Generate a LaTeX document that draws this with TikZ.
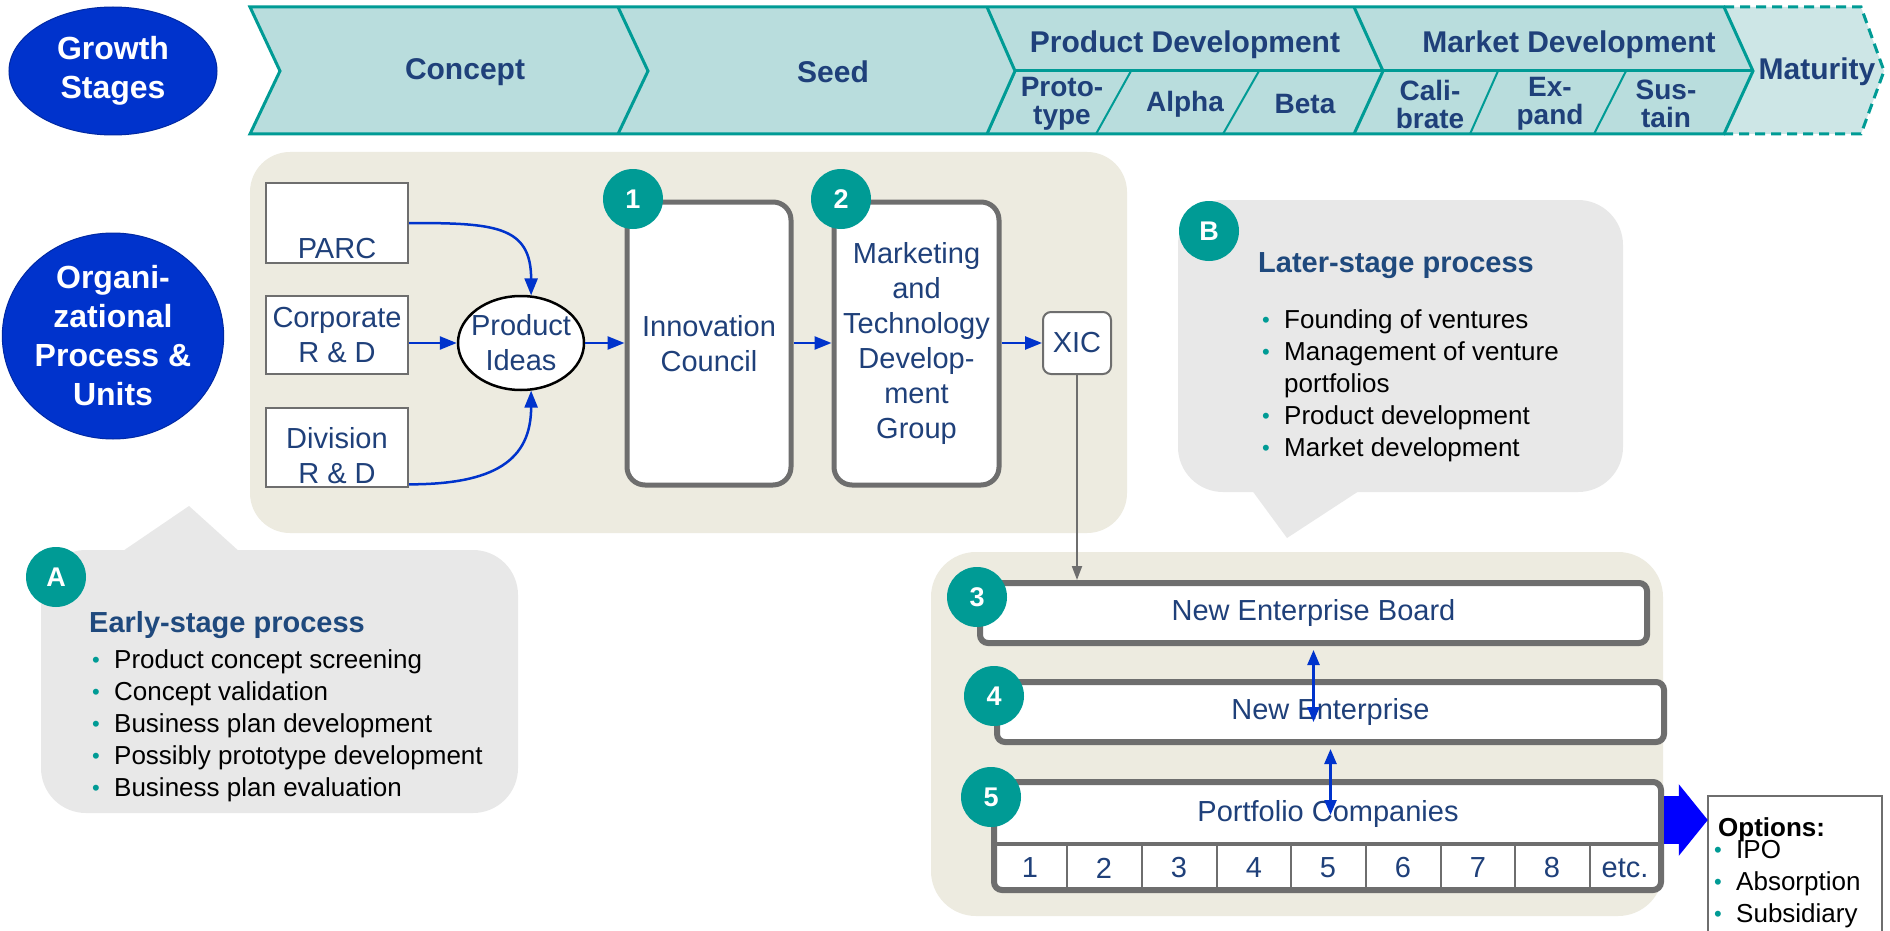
\documentclass[tikz,border=0pt]{standalone}
\usepackage{fontspec}
\setmainfont{Liberation Sans}
\usetikzlibrary{arrows.meta,shapes.geometric,calc}
\definecolor{dblue}{RGB}{31,64,122}
\definecolor{hblue}{RGB}{31,73,125}
\definecolor{teal1}{RGB}{0,155,149}
\definecolor{bannerfill}{RGB}{185,221,221}
\definecolor{matfill}{RGB}{205,230,230}
\definecolor{beige}{RGB}{237,235,224}
\definecolor{callgray}{RGB}{232,232,232}
\definecolor{boxgray}{RGB}{110,110,110}
\definecolor{ovalblue}{RGB}{0,51,204}
\definecolor{arrblue}{RGB}{0,51,204}
\definecolor{bigblue}{RGB}{0,0,255}
\newcommand{\bul}{\makebox[22pt][l]{\color{teal1}\fontsize{22}{22}\selectfont\raisebox{1pt}{•}}}
\begin{document}
\begin{tikzpicture}[x=1pt,y=-1pt,
  bannertxt/.style={text=dblue,font=\bfseries\fontsize{30}{30}\selectfont,align=center,inner sep=0pt},
  subtxt/.style={text=dblue,font=\bfseries\fontsize{28}{28}\selectfont,align=center,inner sep=0pt},
  bluebig/.style={ellipse,fill=ovalblue,draw=ovalblue!80!black,line width=1pt,text=white,font=\bfseries\fontsize{32}{39}\selectfont,align=center,inner sep=0pt},
  boxtxt/.style={text=dblue,font=\fontsize{29}{35}\selectfont,align=center},
  srcbox/.style={draw=boxgray,line width=2pt,fill=white,minimum width=142pt,inner sep=0pt},
  bigbox/.style={draw=boxgray,line width=5pt,fill=white,rounded corners=18pt,text=dblue,font=\fontsize{29}{35}\selectfont,align=center,inner sep=0pt},
  barbox/.style={draw=boxgray,line width=6pt,fill=white,rounded corners=8pt,minimum width=667pt,text=dblue,font=\fontsize{29}{35}\selectfont,inner sep=0pt},
  badge/.style={circle,fill=teal1,minimum size=60pt,inner sep=0pt,text=white,font=\bfseries\fontsize{27}{27}\selectfont},
  conn/.style={arrblue,line width=2.5pt,-{Triangle[length=17pt,width=13pt]}},
  dconn/.style={arrblue,line width=2.5pt,{Triangle[length=15pt,width=12pt]}-{Triangle[length=15pt,width=12pt]}},
  head/.style={text=hblue,font=\bfseries\fontsize{29}{29}\selectfont,inner sep=0pt,anchor=base west},
  item/.style={text=black,font=\fontsize{26}{32}\selectfont,inner sep=0pt,anchor=base west},
  numtxt/.style={text=dblue,font=\fontsize{29}{29}\selectfont,inner sep=0pt}
]
\useasboundingbox (0,0) rectangle (1890,931);
\fill[white] (0,0) rectangle (1890,931);

% ---------- panels and callouts ----------
\fill[beige,rounded corners=40pt] (250,152) rectangle (1127,533);
\fill[beige,rounded corners=45pt] (931,552) rectangle (1663,916);
\fill[callgray,rounded corners=45pt] (41,550) rectangle (518,813);
\fill[callgray] (120,553) -- (189,506) -- (241,553) -- cycle;
\fill[callgray,rounded corners=45pt] (1178,200) rectangle (1623,492);
\fill[callgray] (1251,489) -- (1287,538) -- (1362,489) -- cycle;

% ---------- growth stage banner ----------
\fill[matfill] (1724,7) -- (1861,7) -- (1884,71) -- (1861,134) -- (1724,134) -- (1753,71) -- cycle;
\draw[teal1,line width=3pt,dash pattern=on 10pt off 6pt] (1724,7) -- (1861,7) -- (1884,71) -- (1861,134) -- (1724,134);
\filldraw[fill=bannerfill,draw=teal1,line width=3pt,line join=miter]
  (250,7) -- (1724,7) -- (1753,71) -- (1724,134) -- (250,134) -- (280,71) -- cycle;
\draw[teal1,line width=3pt] (618,7) -- (648,71) -- (618,134);
\draw[teal1,line width=3pt] (987,7) -- (1015,71) -- (987,134);
\draw[teal1,line width=3pt] (1354,7) -- (1383,71) -- (1354,134);
\draw[teal1,line width=3pt] (1015,71) -- (1753,71);
\draw[teal1,line width=2pt] (1131,71) -- (1096,134);
\draw[teal1,line width=2pt] (1259,71) -- (1223,134);
\draw[teal1,line width=2pt] (1498,71) -- (1470,134);
\draw[teal1,line width=2pt] (1626,71) -- (1594,134);

\node[bannertxt] (concept) at (465,72) {Concept};
\node[bannertxt] (seed) at (833,72) {Seed};
\node[bannertxt] (pd) at (1185,45) {Product Development};
\node[bannertxt] (md) at (1569,45) {Market Development};
\node[subtxt] (proto) at (1062,104) {Proto-\\type};
\node[subtxt] (alpha) at (1185,104) {Alpha};
\node[subtxt] (beta) at (1305,104) {Beta};
\node[subtxt] (cali) at (1430,104) {Cali-\\brate};
\node[subtxt] (expand) at (1550,104) {Ex-\\pand};
\node[subtxt] (sustain) at (1666,104) {Sus-\\tain};
\node[bannertxt] (maturity) at (1817,72) {Maturity};

% ---------- left ovals ----------
\node[bluebig,minimum width=208pt,minimum height=128pt] (growth) at (113,71) {Growth\\Stages};
\node[bluebig,minimum width=208pt,minimum height=206pt] (org) at (113,336) {Organi-\\zational\\Process \&\\Units};

% ---------- early-stage units ----------
\node[srcbox,minimum height=80pt] (parc) at (337,223) {};
\node[boxtxt,anchor=base,inner sep=0pt] (parct) at (337,258) {PARC};
\node[srcbox,minimum height=78pt,boxtxt] (corp) at (337,335) {Corporate\\R \& D};
\node[srcbox,minimum height=79pt] (div) at (337,447.5) {};
\node[boxtxt,inner sep=0pt] (divt) at (337,456) {Division\\R \& D};

\node[ellipse,draw=black,line width=2.5pt,fill=white,minimum width=126pt,minimum height=94pt,inner sep=0pt,boxtxt] (ideas) at (521,343) {\makebox[0pt]{Product}\\\makebox[0pt]{Ideas}};

\node[bigbox,minimum width=164pt,minimum height=283pt] (ic) at (709,343.5) {Innovation\\Council};
\node[bigbox,minimum width=165pt,minimum height=283pt] (mtdg) at (916.5,343.5) {\makebox[0pt]{Marketing}\\and\\\makebox[0pt]{Technology}\\Develop-\\ment\\Group};
\node[draw=boxgray,line width=2pt,fill=white,rounded corners=8pt,minimum width=68pt,minimum height=62pt,inner sep=0pt,boxtxt] (xic) at (1077,343) {XIC};

\draw[conn] (parc.east) .. controls +(85,0) and +(0,-70) .. (ideas.78);
\draw[conn] (corp.east |- ideas.west) -- (ideas.west);
\draw[conn] (div.east |- divt.south) .. controls +(85,0) and +(0,70) .. (ideas.-78);
\draw[conn] (ideas.east) -- (ic.west |- ideas.east);
\draw[conn] (ic.east |- ideas.east) -- (mtdg.west |- ideas.east);
\draw[conn] (mtdg.east |- xic.west) -- (xic.west);

% ---------- later-stage units ----------
\node[barbox,minimum height=60pt] (board) at (1313.5,613) {New Enterprise Board};
\node[barbox,minimum height=60pt] (ne) at (1330.5,712) {New Enterprise};
\node[barbox,minimum height=108pt] (port) at (1327.5,836) {};
\node[boxtxt,inner sep=0pt] (portt) at (1328,814) {Portfolio Companies};
\draw[boxgray,line width=4pt] (port.west |- 0,844) -- (port.east |- 0,844);
\foreach \xx in {1067,1142,1217,1291,1366,1441,1515,1590}
  \draw[boxgray,line width=2.5pt] (\xx,844) -- (\xx,888);
\foreach \xx/\lab [count=\i] in {1030/1,1104/2,1179/3,1254/4,1328/5,1403/6,1478/7,1552/8,1625/etc.}
  \node[numtxt] (cell\i) at (\xx,868) {\lab};

\draw[boxgray,line width=2pt,-{Triangle[length=14pt,width=10pt]}] (xic.south) -- (xic.south |- board.north);
\draw[dconn] ($(board.south)+(0,4)$) -- ($(board.south |- ne.center)+(0,10)$);
\draw[dconn] ($(ne.south)+(0,4)$) -- ($(ne.south |- port.north)+(0,36)$);

% options
\node[fill=white,minimum width=174pt,minimum height=140pt,inner sep=0pt] (opt) at (1795,866) {};
\draw[boxgray,line width=2pt] (opt.south west) -- (opt.north west) -- (opt.north east) -- (opt.south east);
\node[text=black,font=\bfseries\fontsize{26}{26}\selectfont,inner sep=0pt,anchor=base west] (optt) at (1718,836) {Options:};
\node[item] (o1) at (1714,858) {\bul IPO};
\node[item] (o2) at (1714,890) {\bul Absorption};
\node[item] (o3) at (1714,922) {\bul Subsidiary};
\draw[bigblue,line width=48pt,-{Triangle[length=29pt,width=70pt]}] (port.east |- 0,820) -- (opt.west |- 0,820);

% ---------- callout texts ----------
\node[head] (ahead) at (89,632) {Early-stage process};
\node[item] (a1) at (92,668) {\bul Product concept screening};
\node[item] (a2) at (92,700) {\bul Concept validation};
\node[item] (a3) at (92,732) {\bul Business plan development};
\node[item] (a4) at (92,764) {\bul Possibly prototype development};
\node[item] (a5) at (92,796) {\bul Business plan evaluation};

\node[head] (bhead) at (1258,272) {Later-stage process};
\node[item] (b1) at (1262,328) {\bul Founding of ventures};
\node[item] (b2) at (1262,360) {\bul Management of venture};
\node[item] (b3) at (1284,392) {portfolios};
\node[item] (b4) at (1262,424) {\bul Product development};
\node[item] (b5) at (1262,456) {\bul Market development};

% ---------- badges ----------
\node[badge] (n1) at (633,199) {1};
\node[badge] (n2) at (841,199) {2};
\node[badge] (n3) at (977,597) {3};
\node[badge] (n4) at (994,696) {4};
\node[badge] (n5) at (991,797) {5};
\node[badge] (na) at (56,577) {A};
\node[badge] (nb) at (1209,231) {B};
\end{tikzpicture}
\end{document}
